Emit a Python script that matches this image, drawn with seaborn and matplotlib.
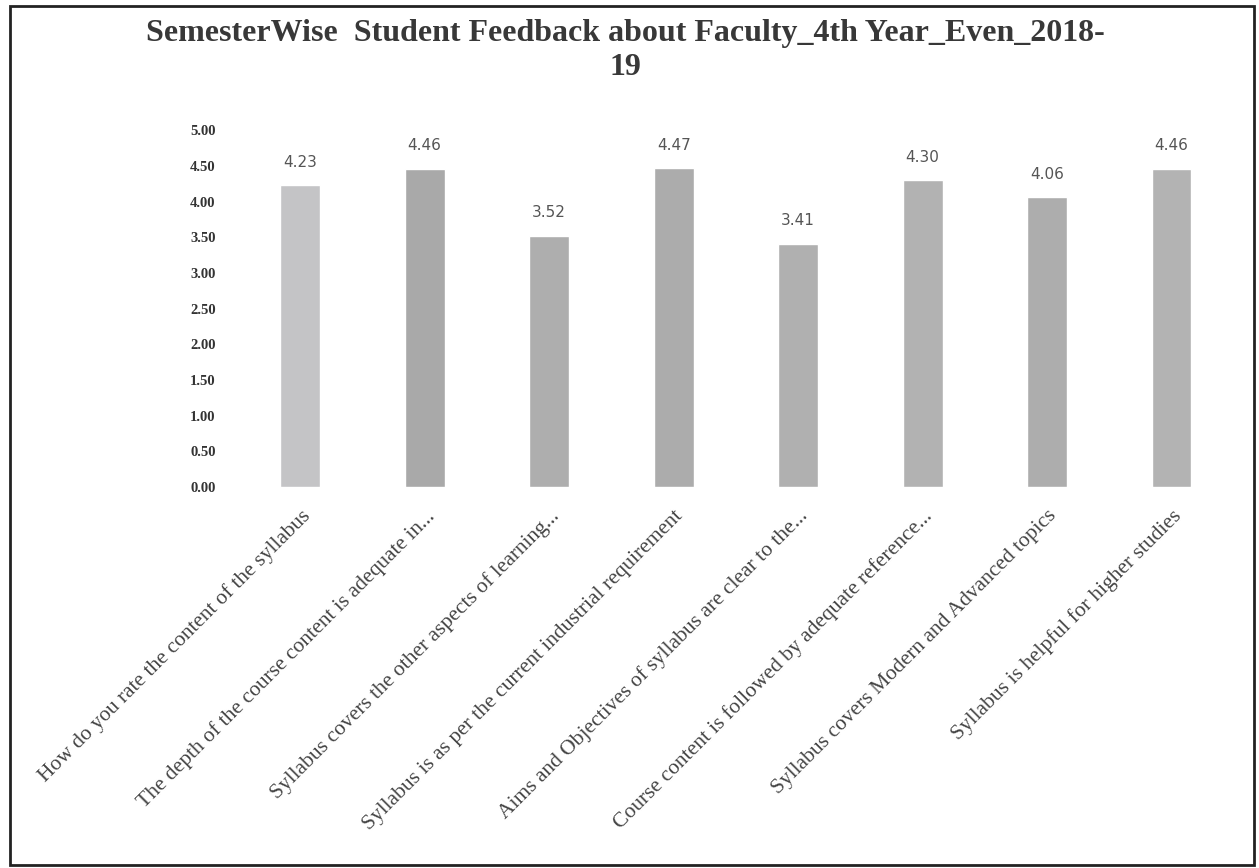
import matplotlib
matplotlib.use("Agg")
import matplotlib.pyplot as plt
import seaborn as sns
import pandas as pd
from matplotlib.patches import Rectangle

# data
questions = [
    "How do you rate the content of the syllabus",
    "The depth of the course content is adequate in...",
    "Syllabus covers the other aspects of learning...",
    "Syllabus is as per the current industrial requirement",
    "Aims and Objectives of syllabus are clear to the...",
    "Course content is followed by adequate reference...",
    "Syllabus covers Modern and Advanced topics",
    "Syllabus is helpful for higher studies",
]
scores = [4.23, 4.46, 3.52, 4.47, 3.41, 4.30, 4.06, 4.46]
y_ticks = [0.0, 0.5, 1.0, 1.5, 2.0, 2.5, 3.0, 3.5, 4.0, 4.5, 5.0]
title = "SemesterWise  Student Feedback about Faculty_4th Year_Even_2018-\n19"

bar_colors = ["#c4c4c6", "#a9a9a9", "#aeaeae", "#acacac",
              "#b0b0b0", "#b2b2b2", "#adadad", "#b3b3b3"]

df = pd.DataFrame({"question": questions, "score": scores})

sns.set_style("white")
plt.rcParams["font.family"] = ["Liberation Serif", "DejaVu Serif"]

fig = plt.figure(figsize=(12.59, 8.68), dpi=100)
ax = fig.add_axes([0.189, 0.439, 0.791, 0.411])

sns.barplot(data=df, x="question", y="score", hue="question",
            palette=bar_colors, legend=False, width=0.32, ax=ax)

# value labels above each bar
for i, v in enumerate(scores):
    ax.text(i, v + 0.32, f"{v:.2f}", ha="center", va="center",
            fontsize=11, color="#555555", family=["DejaVu Sans"])

ax.set_ylim(0, 5)
ax.set_yticks(y_ticks)
ax.set_yticklabels([f"{t:.2f}" for t in y_ticks], fontsize=10.5,
                   fontweight="bold", color="#333333")
ax.tick_params(axis="y", length=0, pad=16)
ax.tick_params(axis="x", length=0, pad=14)
ax.set_xticks(range(len(questions)))
ax.set_xticklabels(questions, rotation=45, ha="right",
                   rotation_mode="anchor", fontsize=15.5, color="#444444")
ax.set_xlabel("")
ax.set_ylabel("")
for s in ax.spines.values():
    s.set_visible(False)

fig.text(0.497, 0.942, title, ha="center", va="center", fontsize=23,
         fontweight="bold", color="#383838", linespacing=1.25)

fig.patches.append(Rectangle((0.008, 0.003), 0.988, 0.99, transform=fig.transFigure,
                             fill=False, edgecolor="#222222", linewidth=2))

fig.savefig("out.png", dpi=100)
